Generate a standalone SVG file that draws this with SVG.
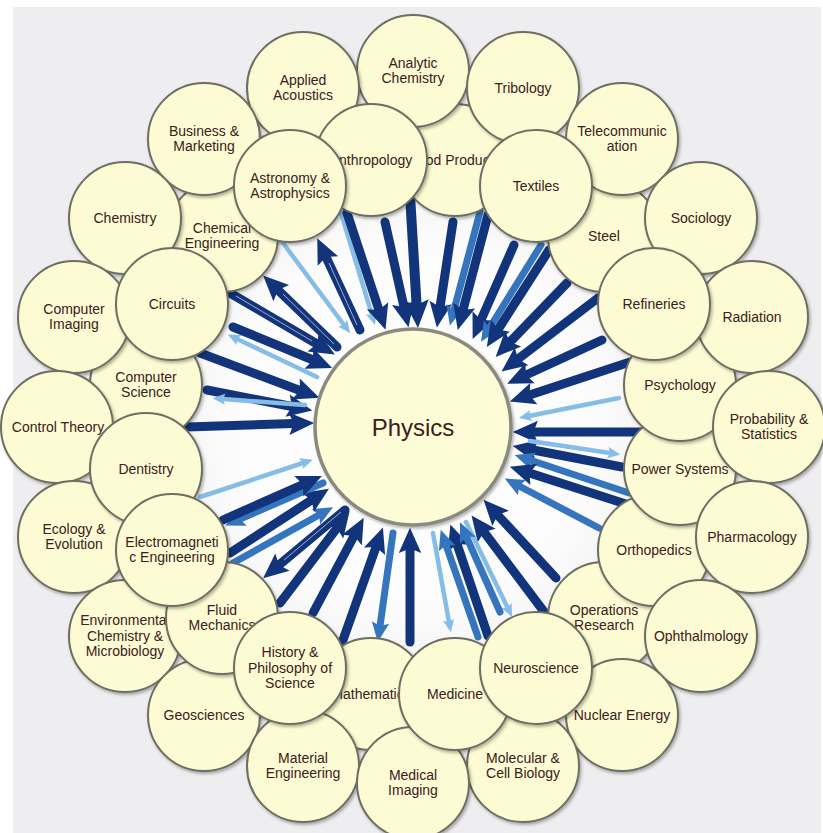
<svg xmlns="http://www.w3.org/2000/svg" width="823" height="833" viewBox="0 0 823 833">
  <style>
    .node{fill:#fdfbd3;stroke:#6e6e62;stroke-width:2;filter:url(#sh)}
    .hub{fill:#fefcd6;stroke:#8a8a80;stroke-width:3.5;filter:url(#sh)}
    .lbl{font-family:"Liberation Sans",Arial,sans-serif;font-size:14px;fill:#3a2020;text-anchor:middle}
    .big{font-family:"Liberation Sans",Arial,sans-serif;font-size:24px;fill:#3a2020;text-anchor:middle}
    .d{stroke:#12347a;stroke-width:9;stroke-linecap:round;fill:none;marker-end:url(#hd)}
    .m{stroke:#3575bd;stroke-width:7;stroke-linecap:round;fill:none;marker-end:url(#hm)}
    .l{stroke:#86bde6;stroke-width:4.5;stroke-linecap:round;fill:none;marker-end:url(#hl)}
    .hi{stroke:#ffffff;stroke-width:1;opacity:.6;fill:none}
  </style>
  <defs>
    <filter id="sh" x="-20%" y="-20%" width="140%" height="140%">
      <feDropShadow dx="1.5" dy="2" stdDeviation="1.5" flood-color="#000" flood-opacity="0.3"/>
    </filter>
    <radialGradient id="glow" cx="413" cy="427" r="270" gradientUnits="userSpaceOnUse">
      <stop offset="0" stop-color="#ffffff" stop-opacity="1"/>
      <stop offset="0.7" stop-color="#ffffff" stop-opacity="0.8"/>
      <stop offset="1" stop-color="#ffffff" stop-opacity="0"/>
    </radialGradient>
    <marker id="hd" markerUnits="strokeWidth" viewBox="0 -1.3 2.8 2.6" refX="0.5" refY="0" markerWidth="2.8" markerHeight="2.6" orient="auto" overflow="visible">
      <path d="M0,-1.25 L2.8,0 L0,1.25 L0.5,0Z" fill="#12347a"/>
    </marker>
    <marker id="hm" markerUnits="strokeWidth" viewBox="0 -1.3 2.8 2.6" refX="0.5" refY="0" markerWidth="2.8" markerHeight="2.6" orient="auto" overflow="visible">
      <path d="M0,-1.25 L2.8,0 L0,1.25 L0.5,0Z" fill="#3575bd"/>
    </marker>
    <marker id="hl" markerUnits="strokeWidth" viewBox="0 -1.3 2.8 2.6" refX="0.5" refY="0" markerWidth="2.8" markerHeight="2.6" orient="auto" overflow="visible">
      <path d="M0,-1.25 L2.8,0 L0,1.25 L0.5,0Z" fill="#86bde6"/>
    </marker>
  </defs>

  <!-- backdrop -->
  <rect x="0" y="0" width="823" height="833" fill="#ffffff"/>
  <rect x="13" y="7" width="808" height="826" fill="#eeeef0"/>
  <circle cx="413" cy="427" r="270" fill="url(#glow)"/>

  <!-- links to and from the hub -->
  <g id="connectors">
    <line class="d" x1="230" y1="293" x2="317" y2="344"/>
    <line class="d" x1="337" y1="347" x2="278" y2="290"/>
    <line class="l" x1="283" y1="243" x2="344" y2="325"/>
    <line class="d" x1="360" y1="330" x2="326" y2="257"/>
    <line class="l" x1="341" y1="213" x2="372" y2="315"/>
    <line class="d" x1="347" y1="213" x2="379" y2="310"/>
    <line class="d" x1="385" y1="222" x2="404" y2="307"/>
    <line class="d" style="stroke-width:10" x1="410" y1="195" x2="416.6" y2="305"/>
    <line class="d" x1="453" y1="222" x2="440" y2="307"/>
    <line class="m" x1="480" y1="212" x2="454" y2="310"/>
    <line class="d" x1="488" y1="215" x2="463" y2="310"/>
    <line class="d" x1="514" y1="245" x2="481" y2="320"/>
    <line class="m" x1="541" y1="245" x2="489.5" y2="328"/>
    <line class="d" x1="549" y1="250" x2="498" y2="329.5"/>
    <line class="d" x1="567" y1="283" x2="510" y2="342"/>
    <line class="d" x1="598" y1="298" x2="518" y2="359"/>
    <line class="d" x1="602" y1="340" x2="526" y2="375"/>
    <line class="d" x1="630" y1="362" x2="529.5" y2="395"/>
    <line class="l" x1="619" y1="398" x2="529" y2="416"/>
    <line class="d" x1="642" y1="432" x2="533.4" y2="432"/>
    <line class="d" x1="622" y1="467" x2="533" y2="450"/>
    <line class="l" x1="530" y1="441" x2="610" y2="453"/>
    <line class="m" x1="629" y1="493" x2="530" y2="460"/>
    <line class="d" x1="629" y1="505" x2="529.5" y2="473"/>
    <line class="m" x1="599" y1="528" x2="519" y2="486"/>
    <line class="d" x1="556" y1="578" x2="497.6" y2="515"/>
    <line class="d" x1="545" y1="613" x2="484" y2="532"/>
    <line class="d" x1="488" y1="636" x2="457" y2="544"/>
    <line class="m" x1="478" y1="637" x2="446" y2="545"/>
    <line class="l" x1="466" y1="522" x2="507.5" y2="607.6"/>
    <line class="m" x1="500" y1="612" x2="466.5" y2="537"/>
    <line class="l" x1="433" y1="533" x2="449" y2="622"/>
    <line class="d" x1="410" y1="642" x2="410" y2="548.4"/>
    <line class="m" x1="393" y1="533" x2="380" y2="626"/>
    <line class="d" x1="343" y1="640" x2="376" y2="547"/>
    <line class="d" x1="313" y1="613" x2="354" y2="536"/>
    <line class="d" x1="280" y1="603" x2="337" y2="528"/>
    <line class="d" x1="345" y1="510" x2="279" y2="565"/>
    <line class="m" x1="233" y1="563" x2="319" y2="515"/>
    <line class="d" x1="230" y1="553" x2="311.6" y2="500"/>
    <line class="m" x1="323" y1="483" x2="240" y2="519"/>
    <line class="d" x1="223" y1="520" x2="303" y2="484.5"/>
    <line class="l" x1="200" y1="497" x2="303" y2="463"/>
    <line class="d" x1="187" y1="427" x2="293.6" y2="423.6"/>
    <line class="d" x1="207" y1="390" x2="292" y2="406.5"/>
    <line class="l" x1="305" y1="405" x2="223" y2="399"/>
    <line class="d" x1="200" y1="353" x2="300" y2="390.5"/>
    <line class="l" x1="317" y1="377" x2="237" y2="339"/>
    <line class="d" x1="233" y1="327" x2="313" y2="360"/>
    <!-- thin sheen on a few shafts -->
    <line class="hi" x1="236" y1="296" x2="312" y2="341"/>
    <line class="hi" x1="334" y1="344" x2="283" y2="294"/>
    <line class="hi" x1="357" y1="325" x2="329" y2="263"/>
    <line class="hi" x1="341" y1="512" x2="284" y2="560"/>
  </g>

  <!-- lower layer of the inner ring -->
  <g id="n-food-products"><circle class="node" cx="455" cy="160" r="56"/><text class="lbl" x="455" y="164.5">Food Products</text></g>
  <g id="n-chemical-engineering"><circle class="node" cx="222" cy="236" r="56"/><text class="lbl"><tspan x="222" y="232.8">Chemical</tspan><tspan x="222" y="248.3">Engineering</tspan></text></g>
  <g id="n-computer-science"><circle class="node" cx="146" cy="385" r="56"/><text class="lbl"><tspan x="146" y="381.8">Computer</tspan><tspan x="146" y="397.3">Science</tspan></text></g>
  <g id="n-steel"><circle class="node" cx="604" cy="236" r="56"/><text class="lbl" x="604" y="240.5">Steel</text></g>
  <g id="n-operations-research"><circle class="node" cx="604" cy="618" r="56"/><text class="lbl"><tspan x="604" y="614.8">Operations</tspan><tspan x="604" y="630.3">Research</tspan></text></g>
  <g id="n-orthopedics"><circle class="node" cx="654" cy="550" r="56"/><text class="lbl" x="654" y="554.5">Orthopedics</text></g>
  <g id="n-power-systems"><circle class="node" cx="680" cy="469" r="56"/><text class="lbl" x="680" y="473.5">Power Systems</text></g>
  <g id="n-psychology"><circle class="node" cx="680" cy="385" r="56"/><text class="lbl" x="680" y="389.5">Psychology</text></g>
  <g id="n-mathematics"><circle class="node" cx="371" cy="694" r="56"/><text class="lbl" x="371" y="698.5">Mathematics</text></g>

  <!-- outer ring -->
  <g id="n-analytic-chemistry"><circle class="node" cx="413" cy="71" r="56"/><text class="lbl"><tspan x="413" y="67.8">Analytic</tspan><tspan x="413" y="83.3">Chemistry</tspan></text></g>
  <g id="n-applied-acoustics"><circle class="node" cx="303" cy="88" r="56"/><text class="lbl"><tspan x="303" y="84.8">Applied</tspan><tspan x="303" y="100.3">Acoustics</tspan></text></g>
  <g id="n-tribology"><circle class="node" cx="523" cy="88" r="56"/><text class="lbl" x="523" y="92.5">Tribology</text></g>
  <g id="n-business-marketing"><circle class="node" cx="204" cy="139" r="56"/><text class="lbl"><tspan x="204" y="135.8">Business &amp;</tspan><tspan x="204" y="151.3">Marketing</tspan></text></g>
  <g id="n-telecommunication"><circle class="node" cx="622" cy="139" r="56"/><text class="lbl"><tspan x="622" y="135.8">Telecommunic</tspan><tspan x="622" y="151.3">ation</tspan></text></g>
  <g id="n-chemistry"><circle class="node" cx="125" cy="218" r="56"/><text class="lbl" x="125" y="222.5">Chemistry</text></g>
  <g id="n-sociology"><circle class="node" cx="701" cy="218" r="56"/><text class="lbl" x="701" y="222.5">Sociology</text></g>
  <g id="n-computer-imaging"><circle class="node" cx="74" cy="317" r="56"/><text class="lbl"><tspan x="74" y="313.8">Computer</tspan><tspan x="74" y="329.3">Imaging</tspan></text></g>
  <g id="n-radiation"><circle class="node" cx="752" cy="317" r="56"/><text class="lbl" x="752" y="321.5">Radiation</text></g>
  <g id="n-control-theory"><circle class="node" cx="57" cy="427" r="56"/><text class="lbl" x="58" y="431.5">Control Theory</text></g>
  <g id="n-probability-statistics"><circle class="node" cx="769" cy="427" r="56"/><text class="lbl"><tspan x="769" y="423.8">Probability &amp;</tspan><tspan x="769" y="439.3">Statistics</tspan></text></g>
  <g id="n-ecology-evolution"><circle class="node" cx="74" cy="537" r="56"/><text class="lbl"><tspan x="74" y="533.8">Ecology &amp;</tspan><tspan x="74" y="549.3">Evolution</tspan></text></g>
  <g id="n-pharmacology"><circle class="node" cx="752" cy="537" r="56"/><text class="lbl" x="752" y="541.5">Pharmacology</text></g>
  <g id="n-environmental-chemistry"><circle class="node" cx="125" cy="636" r="56"/><text class="lbl"><tspan x="125" y="625">Environmental</tspan><tspan x="125" y="640.5">Chemistry &amp;</tspan><tspan x="125" y="656">Microbiology</tspan></text></g>
  <g id="n-ophthalmology"><circle class="node" cx="701" cy="636" r="56"/><text class="lbl" x="701" y="640.5">Ophthalmology</text></g>
  <g id="n-geosciences"><circle class="node" cx="204" cy="715" r="56"/><text class="lbl" x="204" y="719.5">Geosciences</text></g>
  <g id="n-nuclear-energy"><circle class="node" cx="622" cy="715" r="56"/><text class="lbl" x="622" y="719.5">Nuclear Energy</text></g>
  <g id="n-material-engineering"><circle class="node" cx="303" cy="766" r="56"/><text class="lbl"><tspan x="303" y="762.8">Material</tspan><tspan x="303" y="778.3">Engineering</tspan></text></g>
  <g id="n-molecular-cell-biology"><circle class="node" cx="523" cy="766" r="56"/><text class="lbl"><tspan x="523" y="762.8">Molecular &amp;</tspan><tspan x="523" y="778.3">Cell Biology</tspan></text></g>
  <g id="n-medical-imaging"><circle class="node" cx="413" cy="783" r="56"/><text class="lbl"><tspan x="413" y="779.8">Medical</tspan><tspan x="413" y="795.3">Imaging</tspan></text></g>

  <!-- upper layer of the inner ring -->
  <g id="n-anthropology"><circle class="node" cx="371" cy="160" r="56"/><text class="lbl" x="371" y="164.5">Anthropology</text></g>
  <g id="n-astronomy"><circle class="node" cx="290" cy="186" r="56"/><text class="lbl"><tspan x="290" y="182.8">Astronomy &amp;</tspan><tspan x="290" y="198.3">Astrophysics</tspan></text></g>
  <g id="n-textiles"><circle class="node" cx="536" cy="186" r="56"/><text class="lbl" x="536" y="190.5">Textiles</text></g>
  <g id="n-refineries"><circle class="node" cx="654" cy="304" r="56"/><text class="lbl" x="654" y="308.5">Refineries</text></g>
  <g id="n-circuits"><circle class="node" cx="172" cy="304" r="56"/><text class="lbl" x="172" y="308.5">Circuits</text></g>
  <g id="n-dentistry"><circle class="node" cx="146" cy="469" r="56"/><text class="lbl" x="146" y="473.5">Dentistry</text></g>
  <g id="n-fluid-mechanics"><circle class="node" cx="222" cy="618" r="56"/><text class="lbl"><tspan x="222" y="614.8">Fluid</tspan><tspan x="222" y="630.3">Mechanics</tspan></text></g>
  <g id="n-electromagnetic-engineering"><circle class="node" cx="172" cy="550" r="56"/><text class="lbl"><tspan x="172" y="546.8">Electromagneti</tspan><tspan x="172" y="562.3">c Engineering</tspan></text></g>
  <g id="n-history-philosophy"><circle class="node" cx="290" cy="668" r="56"/><text class="lbl"><tspan x="290" y="657">History &amp;</tspan><tspan x="290" y="672.5">Philosophy of</tspan><tspan x="290" y="688">Science</tspan></text></g>
  <g id="n-medicine"><circle class="node" cx="455" cy="694" r="56"/><text class="lbl" x="455" y="698.5">Medicine</text></g>
  <g id="n-neuroscience"><circle class="node" cx="536" cy="668" r="56"/><text class="lbl" x="536" y="672.5">Neuroscience</text></g>

  <!-- hub -->
  <g id="n-physics"><circle class="hub" cx="413" cy="427" r="98"/><text class="big" x="413" y="435.5">Physics</text></g>
</svg>
